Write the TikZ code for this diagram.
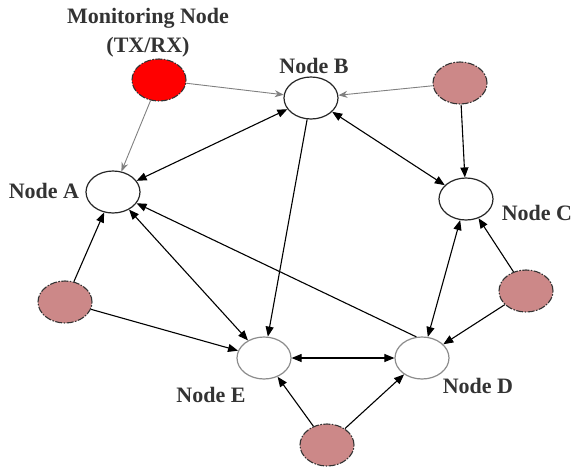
\documentclass[tikz,border=0pt]{standalone}
\usepackage{fontspec}
\setmainfont{Liberation Serif}
\usetikzlibrary{arrows.meta,shapes.geometric}
\definecolor{rose}{HTML}{CC8888}
\tikzset{
  plain/.style={ellipse, draw=black!85, line width=1.2pt, fill=white,
    minimum width=54pt, minimum height=42pt, inner sep=0pt},
  plaingray/.style={plain, draw=black!45},
  rogue/.style={ellipse, draw=black!80, line width=1.1pt, dash pattern=on 7pt off 1.5pt on 1.5pt off 1.5pt,
    fill=rose, minimum width=54pt, minimum height=42pt, inner sep=0pt},
  monitor/.style={rogue, fill=red},
  lbl/.style={font=\bfseries\fontsize{22}{24}\selectfont, text=black!80, inner sep=0pt},
  link/.style={line width=1.1pt, draw=black, -{Triangle[length=10pt,width=8pt]}},
  blink/.style={link, {Triangle[length=10pt,width=8pt]}-{Triangle[length=10pt,width=8pt]}},
  glink/.style={line width=0.9pt, draw=black!50, -{Stealth[length=9pt,width=7pt]}},
}
\begin{document}
\begin{tikzpicture}[x=1pt,y=-1pt]
\useasboundingbox (0,0) rectangle (574,467);

% nodes
\node[monitor] (M) at (159,80) {};
\node[plain] (B) at (311,98) {};
\node[rogue] (R1) at (460,83) {};
\node[plain] (A) at (113,192) {};
\node[plain] (C) at (466,199) {};
\node[rogue] (R2) at (65,302) {};
\node[rogue] (R3) at (526,291) {};
\node[plaingray] (E) at (264,358) {};
\node[plaingray] (D) at (422,358) {};
\node[rogue] (R4) at (327,445) {};

% labels
\node[lbl] (lm1) at (148,18) {Monitoring Node};
\node[lbl] (lm2) at (148,47) {(TX/RX)};
\node[lbl] (lb) at (314,66) {Node B};
\node[lbl] (la) at (44,191) {Node A};
\node[lbl] (lc) at (537,213) {Node C};
\node[lbl] (le) at (211,395) {Node E};
\node[lbl] (ld) at (478,386) {Node D};

% monitoring links
\draw[glink] (M) -- (B);
\draw[glink] (M) -- (A);
\draw[glink] (R1) -- (B);

% network links
\draw[blink] (A) -- (B);
\draw[blink] (B) -- (C);
\draw[link] (B) -- (E);
\draw[link] (R1) -- (C);
\draw[link] (R2) -- (A);
\draw[blink] (A) -- (E);
\draw[link] (D.105) -- (A);
\draw[link] (R2) -- (E);
\draw[blink] (E) -- (D);
\draw[blink] (C) -- (D);
\draw[link] (R3) -- (C);
\draw[link] (R3) -- (D);
\draw[link] (R4) -- (E);
\draw[link] (R4) -- (D);
\end{tikzpicture}
\end{document}
